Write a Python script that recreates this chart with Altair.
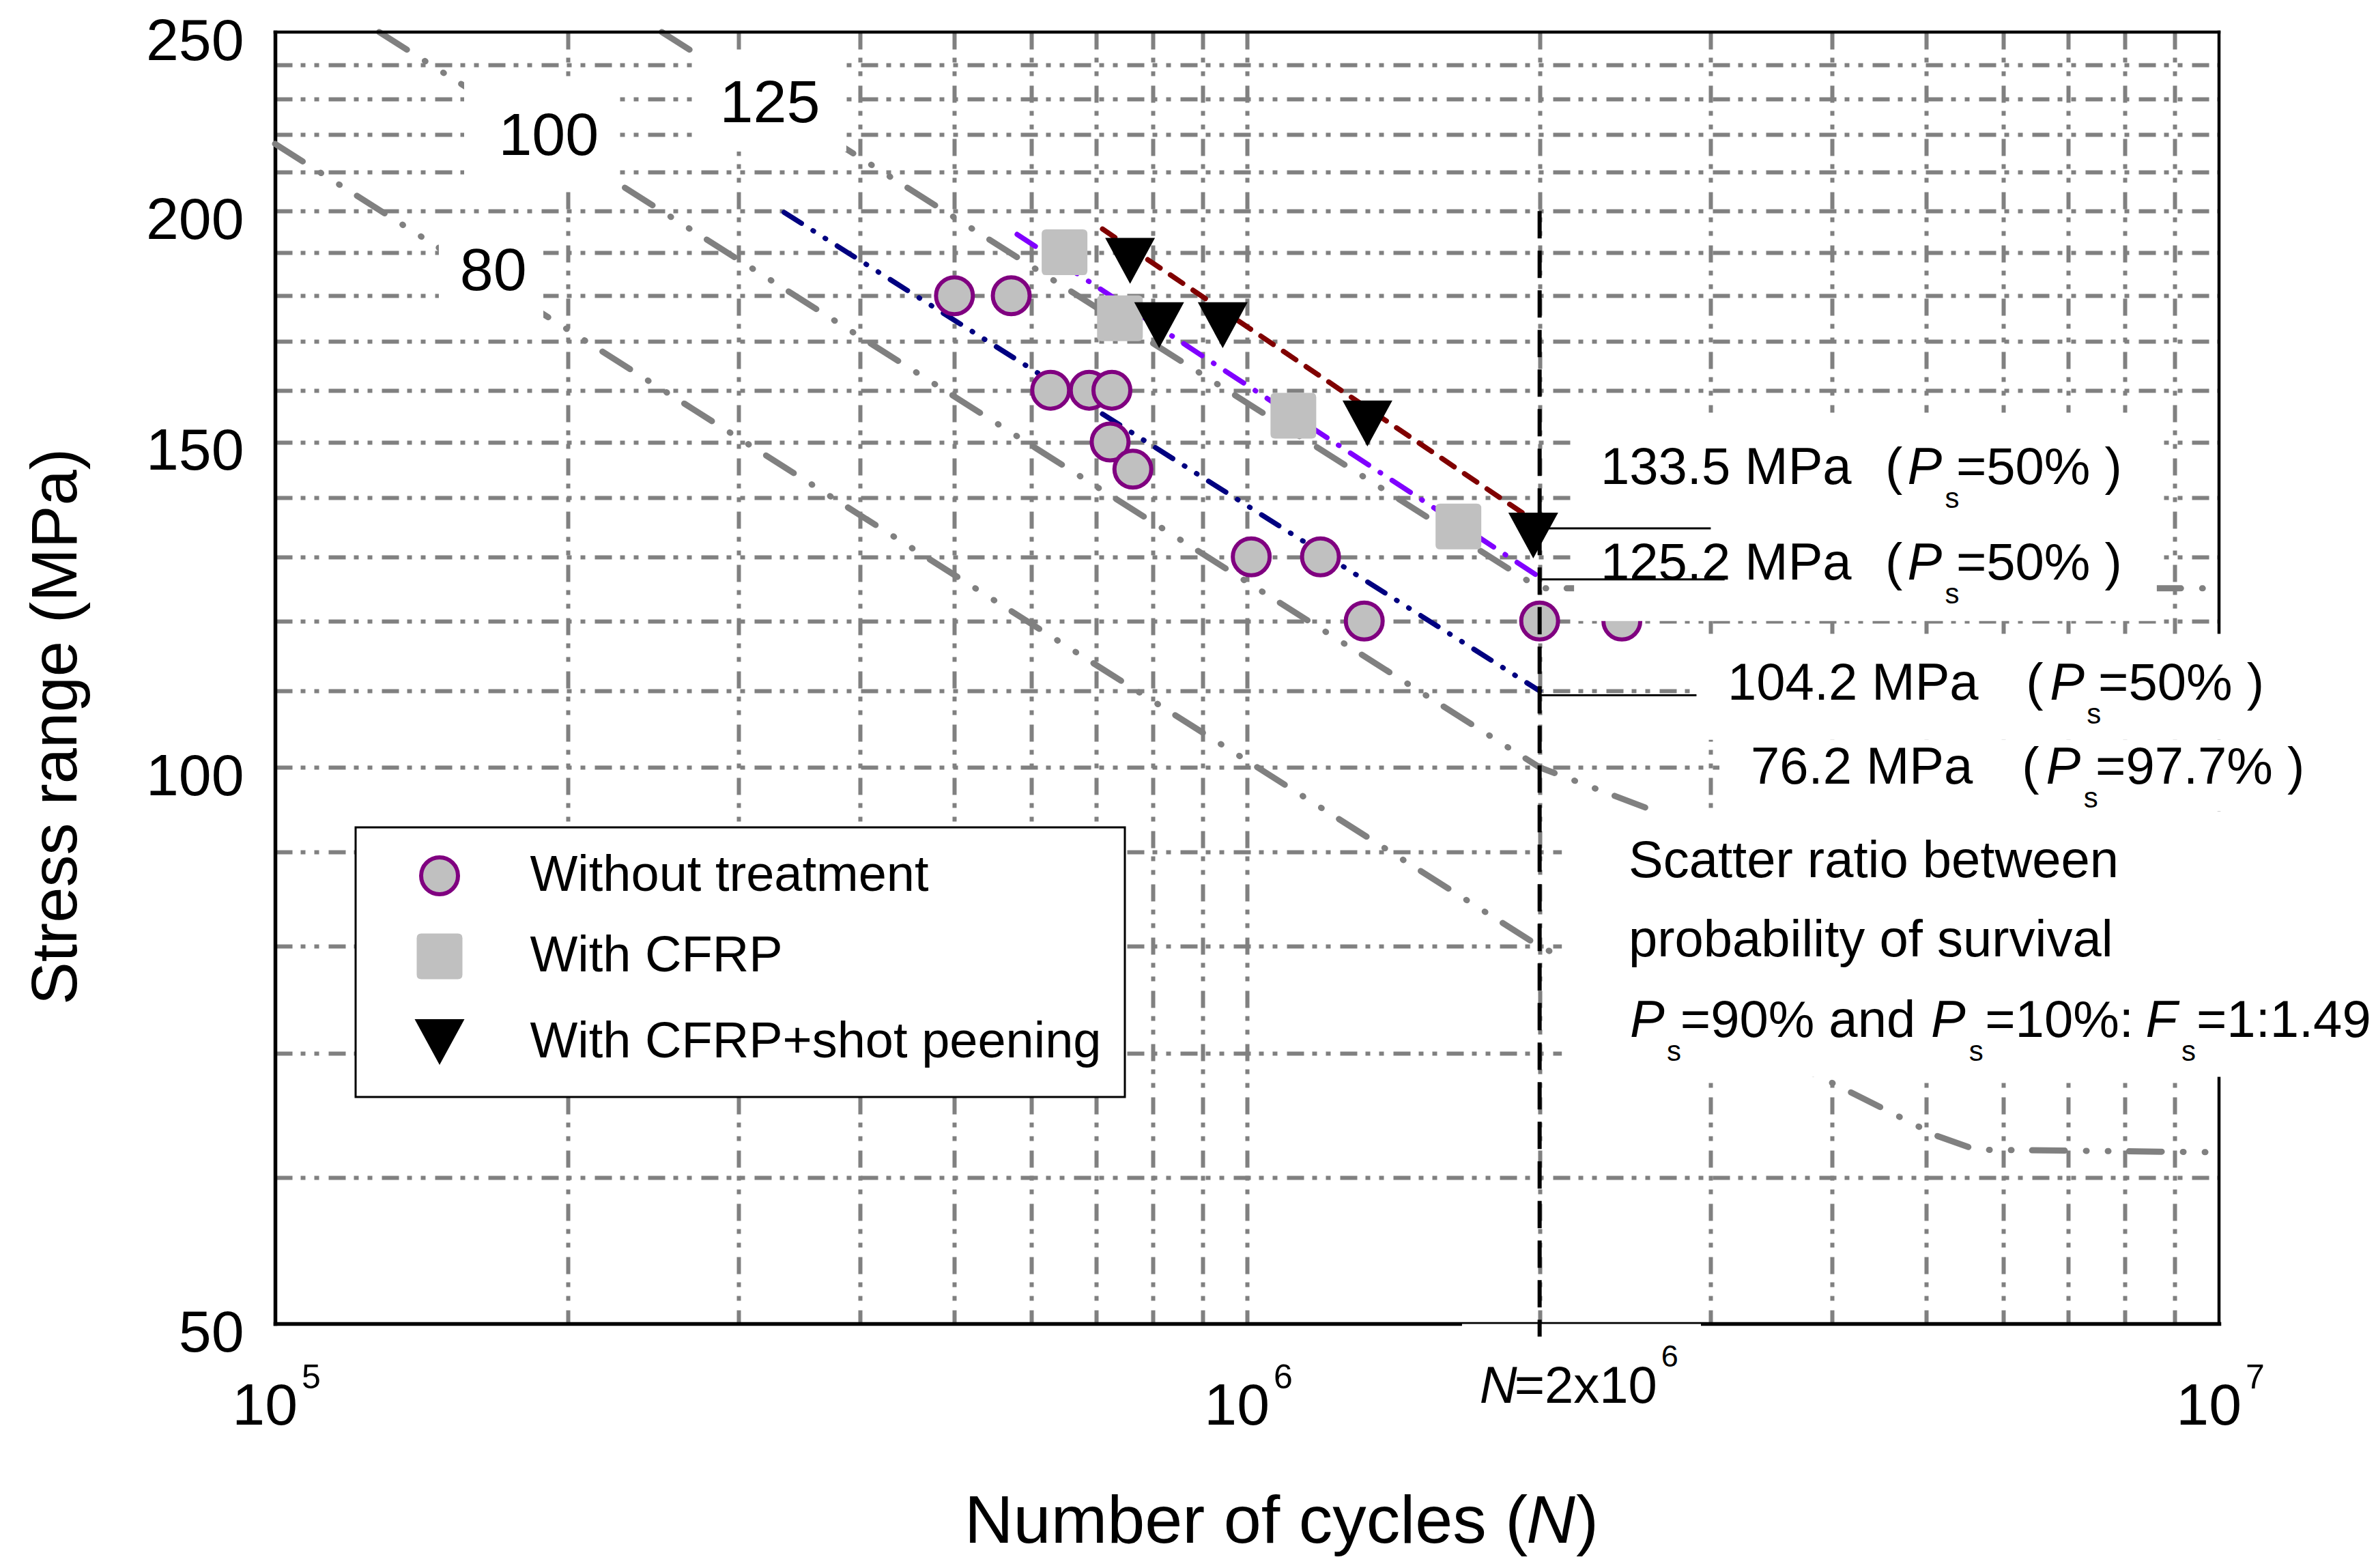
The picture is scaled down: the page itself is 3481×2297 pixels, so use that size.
import altair as alt
import pandas as pd

FONT = "Liberation Sans"

# ---------------- values ----------------
series_names = ["Without treatment", "With CFRP", "With CFRP+shot peening"]

untreated_N = [5.0e5, 5.72e5, 6.28e5, 6.88e5, 7.26e5, 7.23e5, 7.63e5, 1.01e6, 1.19e6, 1.32e6, 2.0e6, 2.43e6]
untreated_S = [180, 180, 160, 160, 160, 150, 145, 130, 130, 120, 120, 120]
cfrp_N = [6.49e5, 7.40e5, 1.116e6, 1.65e6]
cfrp_S = [190, 175, 155, 135]
peened_N = [7.58e5, 8.12e5, 9.44e5, 1.33e6, 1.97e6]
peened_S = [188, 173.5, 173.5, 153.5, 133.5]

# mean (Ps = 50 %) regression lines
fit_untreated_N = [3.34e5, 2.0e6]
fit_untreated_S = [199.7, 110.0]
fit_cfrp_N = [5.8e5, 2.03e6]
fit_cfrp_S = [194.3, 126.1]
fit_peened_N = [7.1e5, 2.07e6]
fit_peened_S = [195.6, 133.7]

# design curves (FAT 80 / 100 / 125)
fat80_N = [1.0e5, 2.0e6, 3.93e6, 4.61e6, 5.12e6, 5.62e6, 1.0e7]
fat80_S = [217.5, 80.0, 67.8, 65.0, 63.2, 62.1, 61.9]
fat100_N = [1.28e5, 2.0e6, 1.0e7]
fat100_S = [250.0, 100.0, 72.5]
fat125_N = [2.5e5, 2.0e6, 1.0e7]
fat125_S = [250.0, 125.0, 125.0]

fat_labels = ["80", "100", "125"]
fat_label_N = [1.677e5, 1.912e5, 3.229e5]
fat_label_S = [185.3, 219.3, 228.4]

# N = 2x10^6 reference line and leader lines to the annotations
ref_N = [2.0e6]
ref_S1 = [200.0]
ref_S2 = [49.2]
leader_N1 = [2.04e6, 2.0e6, 2.0e6]
leader_N2 = [3.0e6, 3.1e6, 2.9e6]
leader_S = [134.7, 126.4, 109.4]

# gridlines / ticks
x_grid = [2e5, 3e5, 4e5, 5e5, 6e5, 7e5, 8e5, 9e5, 1e6, 2e6, 3e6, 4e6, 5e6, 6e6, 7e6, 8e6, 9e6]
y_grid = [50, 60, 70, 80, 90, 100, 110, 120, 130, 140, 150, 160, 170, 180, 190, 200, 210, 220, 230, 240, 250]
x_tick_N = [1e5, 1e6, 1e7]
x_tick_base = ["10", "10", "10"]
x_tick_exp = ["5", "6", "7"]

# annotation texts (anchored in data space)
ann_text = ["133.5 MPa", "(", "=50% )", "125.2 MPa", "(", "=50% )",
            "104.2 MPa", "(", "=50% )", "76.2 MPa", "(", "=97.7% )",
            "Scatter ratio between", "probability of survival",
            "=90% and", "=10%:", "=1:1.49"]
ann_N = [2.311e6, 4.535e6, 5.365e6, 2.311e6, 4.535e6, 5.365e6,
         3.122e6, 6.330e6, 7.512e6, 3.298e6, 6.270e6, 7.463e6,
         2.469e6, 2.469e6, 2.791e6, 5.745e6, 9.480e6]
ann_S = [142.4, 142.4, 142.4, 126.4, 126.4, 126.4,
         108.8, 108.8, 108.8, 98.0, 98.0, 98.0,
         87.2, 79.0, 71.5, 71.5, 71.5]
ital_text = ["P", "P", "P", "P", "P", "P", "F"]
ital_N = [4.780e6, 4.780e6, 6.700e6, 6.636e6, 2.477e6, 5.054e6, 8.404e6]
ital_S = [142.4, 126.4, 108.8, 98.0, 71.5, 71.5, 71.5]
sub_text = ["s", "s", "s", "s", "s", "s", "s"]
sub_N = [5.225e6, 5.225e6, 7.309e6, 7.256e6, 2.703e6, 5.532e6, 9.150e6]
sub_S = ital_S

# white backgrounds behind labels
mask_N1 = [1.474e5, 1.565e5, 2.690e5, 2.170e6, 2.912e6, 3.062e6, 2.108e6, 1.664e6]
mask_N2 = [1.888e5, 2.252e5, 3.870e5, 8.630e6, 1.45e7, 1.45e7, 1.45e7, 2.931e6]
mask_S1 = [174.5, 205.9, 215.4, 120.0, 103.5, 94.7, 68.0, 45.0]
mask_S2 = [194.1, 235.9, 244.1, 155.6, 118.1, 103.5, 94.7, 49.98]

# ---------------- styles ----------------
GRID_DASH = [25, 12, 7, 13, 7, 14]
FAT_DASH = [48, 31, 1, 31, 1, 30]
SQUARE_PATH = "M-0.8,-1L0.8,-1Q1,-1,1,-0.8L1,0.8Q1,1,0.8,1L-0.8,1Q-1,1,-1,0.8L-1,-0.8Q-1,-1,-0.8,-1Z"
TRI_PATH = "M-1,-0.92L1,-0.92L0,0.92Z"

xs = alt.Scale(type="log", domain=[1e5, 1e7], nice=False)
ys = alt.Scale(type="log", domain=[50, 250], nice=False)

x_axis = alt.Axis(values=x_grid, grid=True, gridColor="#808080", gridWidth=6, gridDash=GRID_DASH,
                  labels=False, ticks=False, tickSize=0, domain=True, domainColor="black",
                  domainWidth=5.5, domainCap="square", title=None, zindex=0)
y_axis = alt.Axis(values=y_grid, grid=True, gridColor="#808080", gridWidth=6, gridDash=GRID_DASH,
                  gridOpacity={"condition": {"test": "datum.value == 50 || datum.value == 250", "value": 0},
                               "value": 1},
                  labelExpr="datum.value % 50 == 0 ? format(datum.value, 'd') : ''",
                  labelFont=FONT, labelFontSize=86, labelColor="black", labelPadding=46,
                  labelBaseline="alphabetic", labelOffset=40, labelOverlap=False,
                  ticks=False, tickSize=0, domain=True, domainColor="black", domainWidth=5.5,
                  domainCap="square",
                  title="Stress range (MPa)", titleFont=FONT, titleFontSize=94, titleFontWeight="normal",
                  titleColor="black", titleAngle=270, titleX=-320, titleY=1017, titleAlign="center",
                  titleBaseline="middle", zindex=0)


def X(f="N"):
    return alt.X(f"{f}:Q", scale=xs, axis=x_axis)


def Y(f="S"):
    return alt.Y(f"{f}:Q", scale=ys, axis=y_axis)


# ---------------- layers ----------------
fat_df = pd.concat([
    pd.DataFrame({"N": fat80_N, "S": fat80_S, "curve": "FAT80"}),
    pd.DataFrame({"N": fat100_N, "S": fat100_S, "curve": "FAT100"}),
    pd.DataFrame({"N": fat125_N, "S": fat125_S, "curve": "FAT125"}),
])
fat_layer = alt.Chart(fat_df).mark_line(
    color="#808080", strokeWidth=9, strokeDash=FAT_DASH, strokeCap="round"
).encode(x=X(), y=Y(), detail="curve:N")

border_df = pd.DataFrame({"N1": [1e5, 1e7], "N2": [1e7, 1e7], "S1": [250, 50], "S2": [250, 250]})
border_layer = alt.Chart(border_df).mark_rule(color="black", strokeWidth=4.5, strokeCap="square").encode(
    x=X("N1"), x2="N2:Q", y=Y("S1"), y2="S2:Q")


def fit_layer(ns, ss, color, dash):
    return alt.Chart(pd.DataFrame({"N": ns, "S": ss})).mark_line(
        color=color, strokeWidth=7.5, strokeDash=dash, strokeCap="round").encode(x=X(), y=Y())


fit_u = fit_layer(fit_untreated_N, fit_untreated_S, "#000080", [30, 20, 1, 20, 1, 20])
fit_c = fit_layer(fit_cfrp_N, fit_cfrp_S, "#8000FF", [32, 20, 1, 20])
fit_p = fit_layer(fit_peened_N, fit_peened_S, "#800000", [22, 18])

pts_df = pd.concat([
    pd.DataFrame({"N": untreated_N, "S": untreated_S, "series": series_names[0]}),
    pd.DataFrame({"N": cfrp_N, "S": cfrp_S, "series": series_names[1]}),
    pd.DataFrame({"N": peened_N, "S": peened_S, "series": series_names[2]}),
])
leg = alt.Legend(title=None, orient="none", legendX=118, legendY=1165)
pts_layer = alt.Chart(pts_df).mark_point(filled=True, opacity=1, strokeWidth=6).encode(
    x=X(), y=Y(),
    shape=alt.Shape("series:N", scale=alt.Scale(domain=series_names, range=["circle", SQUARE_PATH, TRI_PATH]),
                    legend=leg),
    fill=alt.Fill("series:N", scale=alt.Scale(domain=series_names, range=["#C0C0C0", "#C0C0C0", "#000000"]),
                  legend=leg),
    stroke=alt.Stroke("series:N",
                      scale=alt.Scale(domain=series_names, range=["#800080", "rgba(0,0,0,0)", "rgba(0,0,0,0)"]),
                      legend=leg),
    size=alt.Size("series:N", scale=alt.Scale(type="ordinal", domain=series_names, range=[2916, 4489, 5329]),
                  legend=leg),
)

mask_df = pd.DataFrame({"N1": mask_N1, "N2": mask_N2, "S1": mask_S1, "S2": mask_S2})
mask_layer = alt.Chart(mask_df).mark_rect(fill="white", strokeWidth=0).encode(
    x=X("N1"), x2="N2:Q", y=Y("S1"), y2="S2:Q")

ref_layer = alt.Chart(pd.DataFrame({"N": ref_N, "S1": ref_S1, "S2": ref_S2})).mark_rule(
    color="black", strokeWidth=6, strokeDash=[40, 18]).encode(x=X(), y=Y("S1"), y2="S2:Q")

leader_layer = alt.Chart(pd.DataFrame({"N1": leader_N1, "N2": leader_N2, "S": leader_S})).mark_rule(
    color="black", strokeWidth=3).encode(x=X("N1"), x2="N2:Q", y=Y())

fat_text = alt.Chart(pd.DataFrame({"N": fat_label_N, "S": fat_label_S, "t": fat_labels})).mark_text(
    font=FONT, fontSize=88, color="black", align="center", baseline="middle").encode(x=X(), y=Y(), text="t:N")


def text_layer(ns, ss, ts, size, style="normal", align="left", dx=0, dy=0):
    return alt.Chart(pd.DataFrame({"N": ns, "S": ss, "t": ts})).mark_text(
        font=FONT, fontSize=size, fontStyle=style, color="black", align=align, baseline="alphabetic",
        dx=dx, dy=dy).encode(x=X(), y=Y(), text="t:N")


ann_layer = text_layer(ann_N, ann_S, ann_text, 76)
ital_layer = text_layer(ital_N, ital_S, ital_text, 76, style="italic")
sub_layer = text_layer(sub_N, sub_S, sub_text, 42, dy=35)

bottom = [50.0, 50.0, 50.0]
tick_base = text_layer(x_tick_N, bottom, x_tick_base, 86, align="right", dx=33, dy=148)
tick_exp = text_layer(x_tick_N, bottom, x_tick_exp, 50, align="left", dx=39, dy=95)
ref_lab_n = text_layer(ref_N, [50.0], ["N"], 76, style="italic", align="right", dx=-33, dy=116)
ref_lab_t = text_layer(ref_N, [50.0], ["=2x10"], 76, align="left", dx=-37, dy=116)
ref_lab_e = text_layer(ref_N, [50.0], ["6"], 45, align="left", dx=178, dy=63)

xt1 = text_layer([5.121e5], [50.0], ["Number of cycles ("], 99, dy=321)
xt2 = text_layer([1.938e6], [50.0], ["N"], 99, style="italic", dy=321)
xt3 = text_layer([2.180e6], [50.0], [")"], 99, dy=321)

chart = alt.layer(
    fat_layer, border_layer, fit_u, fit_c, fit_p, pts_layer, mask_layer, ref_layer,
    fat_text, ann_layer, ital_layer, sub_layer, leader_layer,
    tick_base, tick_exp, ref_lab_n, ref_lab_t, ref_lab_e, xt1, xt2, xt3,
).properties(
    width=2848, height=1892,
    autosize=alt.AutoSizeParams(type="none"),
    padding={"left": 395, "top": 39, "right": 222, "bottom": 350},
).configure_view(stroke="transparent").configure_legend(
    padding=34, rowPadding=33, symbolOffset=49.5, labelOffset=93,
    labelFont=FONT, labelFontSize=74, labelColor="black", labelLimit=2000,
    strokeColor="black", strokeWidth=3, fillColor="white", symbolStrokeWidth=6,
)

chart.save("out.html", embed_options={"renderer": "svg", "actions": False})
